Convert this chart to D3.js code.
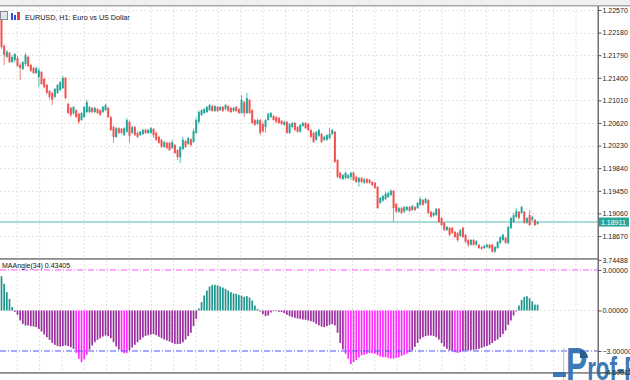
<!DOCTYPE html>
<html><head><meta charset="utf-8">
<script src="https://cdn.jsdelivr.net/npm/d3@7"></script>
<style>html,body{margin:0;padding:0;background:#fff;overflow:hidden}</style>
</head><body>
<svg id="c" width="630" height="380"></svg>
<script>
const openP = [
1.2240,1.2195,1.2176,1.2183,1.2167,1.2171,1.2174,1.2162,1.2155,1.2164,
1.2176,1.2162,1.2157,1.2148,1.2141,1.2150,1.2138,1.2128,1.2117,1.2114,
1.2107,1.2114,1.2119,1.2122,1.2140,1.2095,1.2088,1.2079,1.2084,1.2078,
1.2067,1.2072,1.2081,1.2081,1.2088,1.2081,1.2086,1.2084,1.2081,1.2084,
1.2088,1.2072,1.2055,1.2038,1.2053,1.2052,1.2041,1.2047,1.2064,1.2045,
1.2055,1.2045,1.2041,1.2043,1.2050,1.2045,1.2045,1.2052,1.2045,1.2038,
1.2033,1.2021,1.2028,1.2028,1.2019,1.2024,1.2015,1.2003,1.2017,1.2031,
1.2026,1.2034,1.2029,1.2045,1.2064,1.2076,1.2079,1.2081,1.2084,1.2091,
1.2083,1.2090,1.2084,1.2090,1.2086,1.2091,1.2088,1.2083,1.2090,1.2086,
1.2079,1.2098,1.2079,1.2102,1.2084,1.2067,1.2060,1.2067,1.2060,1.2055,
1.2067,1.2072,1.2074,1.2072,1.2071,1.2066,1.2059,1.2064,1.2045,1.2055,
1.2062,1.2055,1.2047,1.2057,1.2062,1.2060,1.2050,1.2045,1.2033,1.2040,
1.2043,1.2033,1.2033,1.2036,1.2043,1.2047,1.1998,1.1976,1.1965,1.1967,
1.1967,1.1969,1.1976,1.1969,1.1960,1.1967,1.1959,1.1965,1.1964,1.1960,
1.1959,1.1952,1.1924,1.1928,1.1931,1.1934,1.1938,1.1945,1.1922,1.1909,
1.1915,1.1909,1.1912,1.1917,1.1912,1.1917,1.1915,1.1921,1.1929,1.1924,
1.1929,1.1909,1.1902,1.1903,1.1914,1.1898,1.1890,1.1877,1.1881,1.1881,
1.1874,1.1872,1.1867,1.1881,1.1869,1.1860,1.1852,1.1860,1.1852,1.1852,
1.1848,1.1846,1.1848,1.1852,1.1852,1.1840,1.1846,1.1855,1.1860,1.1864,
1.1855,1.1881,1.1891,1.1900,1.1909,1.1907,1.1909,1.1890,1.1903,1.1895,
1.1895,1.1888];
const highP = [
1.2245,1.2198,1.2188,1.2185,1.2179,1.2183,1.2178,1.2166,1.2169,1.2183,
1.2178,1.2164,1.2159,1.2159,1.2157,1.2152,1.2140,1.2129,1.2119,1.2116,
1.2122,1.2129,1.2134,1.2143,1.2141,1.2097,1.2090,1.2091,1.2086,1.2079,
1.2081,1.2091,1.2102,1.2091,1.2090,1.2090,1.2088,1.2086,1.2091,1.2095,
1.2090,1.2074,1.2057,1.2055,1.2055,1.2053,1.2055,1.2071,1.2066,1.2057,
1.2057,1.2047,1.2048,1.2052,1.2052,1.2052,1.2055,1.2053,1.2047,1.2040,
1.2034,1.2031,1.2029,1.2029,1.2033,1.2026,1.2017,1.2022,1.2038,1.2033,
1.2038,1.2036,1.2052,1.2071,1.2084,1.2086,1.2088,1.2091,1.2095,1.2093,
1.2093,1.2091,1.2091,1.2091,1.2095,1.2093,1.2090,1.2090,1.2091,1.2088,
1.2110,1.2100,1.2114,1.2103,1.2086,1.2069,1.2069,1.2069,1.2064,1.2069,
1.2079,1.2081,1.2076,1.2074,1.2072,1.2067,1.2066,1.2066,1.2062,1.2064,
1.2064,1.2057,1.2060,1.2064,1.2064,1.2062,1.2052,1.2047,1.2048,1.2052,
1.2045,1.2040,1.2043,1.2053,1.2052,1.2048,1.2000,1.1978,1.1974,1.1978,
1.1974,1.1978,1.1978,1.1971,1.1969,1.1969,1.1967,1.1967,1.1965,1.1962,
1.1960,1.1953,1.1934,1.1938,1.1943,1.1943,1.1948,1.1946,1.1924,1.1917,
1.1917,1.1919,1.1919,1.1919,1.1921,1.1919,1.1926,1.1934,1.1931,1.1933,
1.1931,1.1910,1.1909,1.1915,1.1915,1.1900,1.1891,1.1884,1.1883,1.1883,
1.1876,1.1874,1.1879,1.1883,1.1871,1.1862,1.1862,1.1862,1.1860,1.1853,
1.1850,1.1852,1.1853,1.1853,1.1853,1.1850,1.1858,1.1867,1.1871,1.1865,
1.1884,1.1900,1.1907,1.1915,1.1910,1.1919,1.1910,1.1900,1.1912,1.1902,
1.1896,1.1893];
const lowP = [
1.2190,1.2162,1.2174,1.2166,1.2166,1.2167,1.2159,1.2136,1.2153,1.2160,
1.2159,1.2150,1.2147,1.2147,1.2124,1.2128,1.2122,1.2112,1.2103,1.2093,
1.2105,1.2112,1.2117,1.2121,1.2103,1.2078,1.2072,1.2076,1.2071,1.2060,
1.2066,1.2071,1.2079,1.2079,1.2079,1.2079,1.2078,1.2074,1.2079,1.2083,
1.2071,1.2048,1.2028,1.2036,1.2043,1.2043,1.2040,1.2045,1.2028,1.2043,
1.2040,1.2036,1.2040,1.2041,1.2043,1.2043,1.2043,1.2036,1.2031,1.2026,
1.2019,1.2019,1.2017,1.2014,1.2017,1.2009,1.1998,1.1993,1.2015,1.2019,
1.2024,1.2021,1.2028,1.2043,1.2060,1.2074,1.2078,1.2079,1.2083,1.2081,
1.2081,1.2081,1.2083,1.2081,1.2084,1.2081,1.2079,1.2081,1.2081,1.2078,
1.2078,1.2072,1.2078,1.2078,1.2060,1.2057,1.2059,1.2041,1.2045,1.2045,
1.2066,1.2071,1.2066,1.2062,1.2060,1.2059,1.2057,1.2043,1.2043,1.2053,
1.2048,1.2045,1.2045,1.2055,1.2052,1.2048,1.2036,1.2028,1.2031,1.2038,
1.2028,1.2031,1.2031,1.2034,1.2041,1.1993,1.1967,1.1965,1.1964,1.1965,
1.1965,1.1964,1.1962,1.1959,1.1952,1.1959,1.1957,1.1957,1.1957,1.1953,
1.1948,1.1914,1.1922,1.1926,1.1929,1.1933,1.1936,1.1891,1.1907,1.1907,
1.1905,1.1907,1.1910,1.1909,1.1910,1.1910,1.1914,1.1919,1.1919,1.1922,
1.1905,1.1898,1.1900,1.1902,1.1890,1.1884,1.1876,1.1876,1.1867,1.1871,
1.1864,1.1857,1.1865,1.1864,1.1855,1.1848,1.1850,1.1850,1.1850,1.1845,
1.1843,1.1845,1.1846,1.1845,1.1838,1.1838,1.1845,1.1853,1.1858,1.1853,
1.1853,1.1879,1.1890,1.1898,1.1896,1.1905,1.1888,1.1888,1.1884,1.1893,
1.1884,1.1886];
const closeP = [
1.2193,1.2179,1.2185,1.2167,1.2176,1.2181,1.2160,1.2157,1.2167,1.2179,
1.2160,1.2152,1.2148,1.2157,1.2153,1.2129,1.2124,1.2114,1.2107,1.2102,
1.2121,1.2128,1.2133,1.2140,1.2105,1.2079,1.2076,1.2090,1.2072,1.2064,
1.2079,1.2090,1.2098,1.2090,1.2081,1.2088,1.2079,1.2076,1.2090,1.2093,
1.2072,1.2050,1.2038,1.2053,1.2045,1.2045,1.2053,1.2067,1.2040,1.2055,
1.2041,1.2038,1.2047,1.2050,1.2045,1.2050,1.2053,1.2041,1.2033,1.2028,
1.2021,1.2029,1.2019,1.2015,1.2029,1.2010,1.2003,1.2021,1.2033,1.2021,
1.2036,1.2024,1.2048,1.2067,1.2081,1.2084,1.2086,1.2090,1.2093,1.2083,
1.2091,1.2083,1.2090,1.2083,1.2093,1.2083,1.2081,1.2088,1.2083,1.2079,
1.2102,1.2079,1.2105,1.2079,1.2062,1.2059,1.2067,1.2045,1.2048,1.2067,
1.2078,1.2079,1.2067,1.2064,1.2062,1.2060,1.2064,1.2045,1.2060,1.2062,
1.2050,1.2047,1.2059,1.2062,1.2053,1.2050,1.2038,1.2029,1.2047,1.2050,
1.2029,1.2038,1.2041,1.2043,1.2050,1.1995,1.1969,1.1967,1.1972,1.1976,
1.1972,1.1976,1.1964,1.1960,1.1967,1.1960,1.1965,1.1959,1.1959,1.1955,
1.1950,1.1915,1.1933,1.1936,1.1940,1.1941,1.1945,1.1915,1.1909,1.1915,
1.1907,1.1917,1.1917,1.1910,1.1919,1.1912,1.1924,1.1931,1.1921,1.1931,
1.1907,1.1900,1.1907,1.1914,1.1891,1.1886,1.1877,1.1883,1.1869,1.1872,
1.1865,1.1860,1.1877,1.1865,1.1857,1.1852,1.1860,1.1852,1.1858,1.1846,
1.1845,1.1850,1.1852,1.1846,1.1840,1.1848,1.1857,1.1865,1.1869,1.1855,
1.1883,1.1898,1.1903,1.1910,1.1898,1.1917,1.1890,1.1898,1.1886,1.1900,
1.1886,1.18911];
const maAngle = [
2.54,1.98,1.36,0.86,0.25,-0.10,-0.32,-0.74,-0.99,-1.11,
-1.11,-1.16,-1.19,-1.23,-1.36,-1.56,-1.78,-1.98,-2.17,-2.40,
-2.54,-2.64,-2.67,-2.64,-2.59,-2.64,-2.72,-2.84,-3.14,-3.58,
-3.83,-3.63,-3.28,-2.90,-2.59,-2.35,-2.17,-2.05,-1.93,-1.85,
-1.90,-2.05,-2.35,-2.67,-2.89,-3.04,-3.16,-3.14,-2.94,-2.74,
-2.54,-2.35,-2.17,-2.00,-1.88,-1.83,-1.78,-1.75,-1.83,-1.95,
-2.05,-2.15,-2.22,-2.30,-2.40,-2.47,-2.49,-2.47,-2.35,-2.15,
-1.90,-1.65,-1.16,-0.62,0.15,0.62,1.11,1.48,1.78,1.90,
1.90,1.85,1.78,1.70,1.60,1.48,1.36,1.26,1.23,1.16,
1.11,1.01,1.06,0.96,0.74,0.37,0.12,-0.07,-0.27,-0.42,
-0.37,-0.15,-0.05,-0.05,-0.10,-0.12,-0.20,-0.32,-0.42,-0.49,
-0.54,-0.59,-0.62,-0.67,-0.69,-0.74,-0.79,-0.86,-0.99,-1.09,
-1.19,-1.23,-1.16,-1.06,-1.01,-1.11,-1.65,-2.40,-2.89,-3.21,
-3.58,-3.98,-3.83,-3.68,-3.48,-3.33,-3.28,-3.21,-3.16,-3.16,
-3.21,-3.31,-3.41,-3.46,-3.46,-3.53,-3.56,-3.56,-3.51,-3.46,
-3.36,-3.28,-3.19,-3.09,-2.94,-2.69,-2.40,-2.12,-1.98,-1.90,
-1.85,-1.85,-1.88,-1.98,-2.15,-2.42,-2.67,-2.84,-2.96,-2.98,
-3.09,-3.14,-3.09,-2.99,-2.96,-2.96,-2.94,-2.91,-2.89,-2.84,
-2.77,-2.69,-2.64,-2.54,-2.40,-2.25,-2.15,-1.98,-1.75,-1.48,
-1.06,-0.74,-0.37,-0.07,0.37,0.79,1.01,1.06,0.91,0.67,
0.44,0.43405];
const priceTicks = [1.22570,1.22180,1.21790,1.21400,1.21010,1.20620,1.20230,1.19840,1.19450,1.19060,1.18670];
const indTicks = [3.74488, 3.0, 0.0, -3.0];
const indMin = -4.60012;
const indMax = 3.74488;
const levels = [3.0, -3.0];
const lastPrice = 1.18911;
const title = "EURUSD, H1:  Euro vs US Dollar";
const indName = "MAAngle(34)";

const svg = d3.select("#c");
const W = 630, axisX = 598;
const font = "'Liberation Sans', Arial, sans-serif";

// chrome
svg.append("rect").attr("x",0).attr("y",0).attr("width",W).attr("height",380).attr("fill","#fff");
svg.append("rect").attr("x",0).attr("y",0).attr("width",W).attr("height",5).attr("fill","#f0f0f0");
svg.append("rect").attr("x",0).attr("y",5).attr("width",W).attr("height",1.5).attr("fill","#a8a8a8");

const n = closeP.length;
const x = d3.scaleLinear().domain([0, n-1]).range([1.5, 537.6]);
const y = d3.scaleLinear().domain([priceTicks[0], priceTicks[priceTicks.length-1]]).range([10, 236]);
const yi = d3.scaleLinear().domain([indMin, indMax]).range([372.6, 259.94]);

const mainTop = 7, mainBot = 258, indTop = 260, indBot = 372;

// grid
const grid = svg.append("g").attr("stroke","#e2e2e2").attr("stroke-width",1).attr("stroke-dasharray","2,2");
for (let gx = 576; gx > 0; gx -= 22.35) {
  grid.append("line").attr("x1",gx).attr("x2",gx).attr("y1",mainTop).attr("y2",mainBot);
  grid.append("line").attr("x1",gx).attr("x2",gx).attr("y1",indTop).attr("y2",indBot);
}
priceTicks.forEach(t => grid.append("line").attr("x1",0).attr("x2",axisX).attr("y1",Math.round(y(t))+0.5).attr("y2",Math.round(y(t))+0.5));
grid.append("line").attr("x1",0).attr("x2",axisX).attr("y1",Math.round(yi(0))+0.5).attr("y2",Math.round(yi(0))+0.5);

// current price line
svg.append("line").attr("x1",0).attr("x2",axisX).attr("y1",y(lastPrice)).attr("y2",y(lastPrice))
  .attr("stroke","#8fd0ca").attr("stroke-width",1.5);

// candles
const bull = "#26a69a", bear = "#ef5350";
const cg = svg.append("g");
d3.range(n).forEach(i => {
  const up = closeP[i] >= openP[i];
  const col = up ? bull : bear;
  const xc = x(i);
  cg.append("line").attr("x1",xc).attr("x2",xc).attr("y1",y(highP[i])).attr("y2",y(lowP[i]))
    .attr("stroke",col).attr("stroke-width",1).attr("stroke-opacity",0.75);
  const y0 = y(Math.max(openP[i], closeP[i])), y1 = y(Math.min(openP[i], closeP[i]));
  cg.append("rect").attr("x",xc-1).attr("width",2).attr("y",y0).attr("height",Math.max(1,y1-y0)).attr("fill",col);
});

// indicator histogram
const hg = svg.append("g");
maAngle.forEach((v,i) => {
  const col = v > 0 ? "#1e958c" : (v < levels[1] ? "#ff2cff" : "#9a2f9e");
  const ya = yi(Math.max(0,v)), yb = yi(Math.min(0,v));
  hg.append("rect").attr("x",x(i)-0.85).attr("width",1.7).attr("y",ya).attr("height",Math.max(0.6,yb-ya)).attr("fill",col);
});

// level lines
svg.append("line").attr("x1",0).attr("x2",axisX).attr("y1",yi(levels[0])).attr("y2",yi(levels[0]))
  .attr("stroke","#ff55ff").attr("stroke-width",1).attr("stroke-dasharray","6,2,1,2");
svg.append("line").attr("x1",0).attr("x2",axisX).attr("y1",yi(levels[1])).attr("y2",yi(levels[1]))
  .attr("stroke","#5050ff").attr("stroke-width",1).attr("stroke-dasharray","6,2,1,2");

// panel borders
svg.append("rect").attr("x",0).attr("y",mainBot).attr("width",axisX).attr("height",1.8).attr("fill","#8c8c8c");
svg.append("rect").attr("x",0).attr("y",indBot).attr("width",W).attr("height",1.8).attr("fill","#8c8c8c");
svg.append("rect").attr("x",axisX-0.5).attr("y",6).attr("width",1.5).attr("height",indBot-6).attr("fill","#707070");

// watermark logo (drawn beneath axis labels)
const lg = svg.append("g").attr("opacity",0.93);
lg.append("rect").attr("x",563).attr("y",348).attr("width",1.2).attr("height",32).attr("fill","#b6c4d4");
lg.append("rect").attr("x",553).attr("y",372).attr("width",13).attr("height",5).attr("fill","#2f6fb0");
lg.append("text").attr("x",566).attr("y",380).attr("font-family",font).attr("font-weight","bold")
  .attr("fill","#2f6fb0").attr("textLength",72).attr("lengthAdjust","spacingAndGlyphs")
  .selectAll("tspan").data([["P",47],["rof-F",33]]).enter().append("tspan")
  .attr("font-size",d=>d[1]).text(d=>d[0]);
lg.append("path").attr("d","M580,350 A8,8 0 0,1 588,358 L580,358 Z").attr("fill","#1d4f86");

// axes
const fmt = d3.format(".5f");
const ax = svg.append("g").attr("transform",`translate(${axisX+0.5},0)`)
  .call(d3.axisRight(y).tickValues(priceTicks).tickSize(3).tickPadding(1).tickFormat(fmt));
ax.select(".domain").remove();
ax.selectAll("text").attr("font-family",font).attr("font-size",7).attr("fill","#222");
ax.selectAll("line").attr("stroke","#555");

const axi = svg.append("g").attr("transform",`translate(${axisX+0.5},0)`)
  .call(d3.axisRight(yi).tickValues(indTicks.concat([indMin])).tickSize(3).tickPadding(1).tickFormat(fmt));
axi.select(".domain").remove();
axi.selectAll("text").attr("font-family",font).attr("font-size",7).attr("fill","#222");
axi.selectAll("line").attr("stroke","#555");

// current price label
const ly = y(lastPrice);
svg.append("rect").attr("x",axisX+1).attr("y",ly-4.5).attr("width",W-axisX-2).attr("height",9).attr("fill","#26a69a");
svg.append("text").attr("x",axisX+3).attr("y",ly+2.6).attr("font-family",font).attr("font-size",7).attr("fill","#fff").text(fmt(lastPrice));

// title + icons
svg.append("rect").attr("x",0.5).attr("y",11.5).attr("width",7).attr("height",8).attr("fill","#dde6f3").attr("stroke","#8a8a8a");
svg.append("rect").attr("x",11).attr("y",13).attr("width",2).attr("height",7).attr("fill","#3050d0");
svg.append("rect").attr("x",14).attr("y",15).attr("width",2).attr("height",5).attr("fill","#3050d0");
svg.append("rect").attr("x",17).attr("y",12).attr("width",3).attr("height",8).attr("fill","#e04040");
svg.append("text").attr("x",25).attr("y",19.5).attr("font-family",font).attr("font-size",7.2).attr("fill","#111").text(title);

// indicator label
svg.append("text").attr("x",2).attr("y",268).attr("font-family",font).attr("font-size",7).attr("fill","#111")
  .text(indName + " " + d3.format(".5f")(maAngle[n-1]));
</script>
</body></html>
